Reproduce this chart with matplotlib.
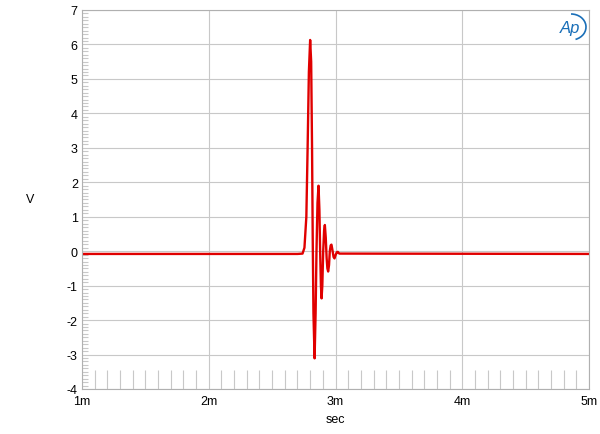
import matplotlib
matplotlib.use("Agg")
import matplotlib.pyplot as plt
from matplotlib.ticker import MultipleLocator
from matplotlib.patches import Arc

plt.rcParams['font.family'] = ['Liberation Sans', 'DejaVu Sans']
plt.rcParams['axes.unicode_minus'] = False

# time in ms, voltage in V
t_ms = [1.0, 2.70, 2.74, 2.755, 2.77, 2.78, 2.79, 2.80, 2.808, 2.815, 2.82, 2.826,
        2.835, 2.843, 2.85, 2.858, 2.866, 2.873, 2.88, 2.885, 2.890, 2.896, 2.903,
        2.91, 2.916, 2.923, 2.93, 2.936, 2.942, 2.949, 2.955, 2.962, 2.968, 2.975,
        2.985, 2.992, 3.0, 3.01, 3.018, 3.03, 5.0]
volts = [-0.08, -0.08, -0.07, 0.1, 1.0, 3.0, 5.2, 6.13, 5.5, 3.0, 0.5, -1.8,
         -3.11, -1.8, 0.0, 1.4, 1.90, 1.2, -0.2, -1.0, -1.37, -1.0, 0.0,
         0.6, 0.76, 0.4, -0.2, -0.5, -0.59, -0.4, 0.0, 0.17, 0.19, 0.05,
         -0.17, -0.21, -0.12, -0.03, -0.02, -0.07, -0.08]

x_ticks = [1, 2, 3, 4, 5]
x_labels = ["1m", "2m", "3m", "4m", "5m"]
y_ticks = list(range(-4, 8))

fig = plt.figure(figsize=(6, 4.35), dpi=100)
ax = fig.add_axes([82/600, 1-390/435, (589-82)/600, (390-11)/435])

ax.plot(t_ms, volts, color="#e00000", lw=1.7, solid_joinstyle="round")

ax.set_xlim(1, 5)
ax.set_ylim(-4, 7)
ax.set_xticks(x_ticks)
ax.set_xticklabels(x_labels)
ax.set_yticks(y_ticks)
ax.xaxis.set_minor_locator(MultipleLocator(0.1))
ax.yaxis.set_minor_locator(MultipleLocator(0.1))

ax.grid(True, which="major", color="#c8c8c8", lw=0.8)
ax.tick_params(axis="both", which="major", length=0, labelsize=9, pad=3)
ax.tick_params(axis="x", which="minor", direction="in", length=14, color="#c8c8c8", width=0.8)
ax.tick_params(axis="y", which="minor", direction="in", length=4, color="#c8c8c8", width=0.8)
ax.tick_params(axis="x", which="major", pad=4)
for s in ax.spines.values():
    s.set_color("#b0b0b0")
    s.set_linewidth(0.8)

fig.text(30/600, 1-200/435, "V", fontsize=9, ha="center", va="center")
fig.text(335/600, 1-420/435, "sec", fontsize=9, ha="center", va="center")
fig.text(570/600, 1-29/435, "Ap", fontsize=12, fontstyle="italic",
         color="#1a6fb8", ha="center", va="center")
fig.patches.append(Arc((571, 435-28), 30, 26, theta1=-70, theta2=90,
                       transform=None, color="#1a6fb8", lw=1.2))

fig.savefig("out.png", dpi=100)
